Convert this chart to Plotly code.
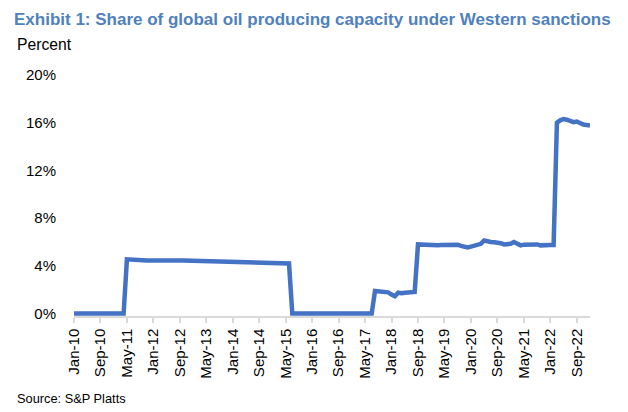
import plotly.graph_objects as go

# month labels Jan-10 .. Jan-23
month_names = ["Jan", "Feb", "Mar", "Apr", "May", "Jun",
               "Jul", "Aug", "Sep", "Oct", "Nov", "Dec"]
years = list(range(2010, 2024))
months = [f"{m}-{str(y)[2:]}" for y in years for m in month_names][:157]

# share of global oil producing capacity under sanctions, percent
share = [
    # 2010
    0, 0, 0, 0, 0, 0, 0, 0, 0, 0, 0, 0,
    # 2011
    0, 0, 0, 0, 4.55, 4.52, 4.50, 4.48, 4.47, 4.46, 4.45, 4.45,
    # 2012
    4.44, 4.43, 4.42, 4.43, 4.44, 4.45, 4.44, 4.43, 4.45, 4.46, 4.45, 4.44,
    # 2013
    4.43, 4.42, 4.42, 4.43, 4.42, 4.41, 4.41, 4.40, 4.40, 4.40, 4.39, 4.38,
    # 2014
    4.36, 4.33, 4.33, 4.34, 4.33, 4.32, 4.31, 4.30, 4.29, 4.28, 4.27, 4.26,
    # 2015
    4.25, 4.24, 4.23, 4.22, 4.24, 4.20, 0, 0, 0, 0, 0, 0,
    # 2016
    0, 0, 0, 0, 0, 0, 0, 0, 0, 0, 0, 0,
    # 2017
    0, 0, 0, 0, 0, 0, 0, 1.90, 1.88, 1.87, 1.85, 1.78,
    # 2018
    1.60, 1.45, 1.75, 1.70, 1.75, 1.78, 1.80, 1.82, 5.80, 5.78, 5.76, 5.75,
    # 2019
    5.72, 5.72, 5.74, 5.76, 5.78, 5.80, 5.82, 5.83, 5.78, 5.68, 5.60, 5.55,
    # 2020
    5.62, 5.70, 5.72, 5.85, 6.13, 6.02, 6.00, 5.98, 5.97, 5.90, 5.80, 5.78,
    # 2021
    5.85, 6.00, 5.85, 5.72, 5.78, 5.80, 5.82, 5.83, 5.80, 5.72, 5.70, 5.72,
    # 2022
    5.75, 5.75, 16.00, 16.20, 16.30, 16.25, 16.15, 16.05, 16.10, 15.95, 15.85, 15.80,
    # 2023
    15.77,
]

tick_labels = months[::8]
y_ticks = [0, 4, 8, 12, 16, 20]
y_tick_text = [f"{v}%" for v in y_ticks]

fig = go.Figure()
fig.add_trace(go.Scatter(
    x=months, y=share, mode="lines",
    line=dict(color="#4472C4", width=4.5),
    hoverinfo="skip",
))

# page body has an 8px margin, so the figure is drawn 8px smaller and offset
fig.update_layout(
    width=620, height=404,
    margin=dict(l=66, r=38, t=67, b=96),
    paper_bgcolor="white", plot_bgcolor="white",
    showlegend=False,
    font=dict(family="Liberation Sans, Arial, sans-serif", size=15, color="black"),
    title=dict(
        text="<b>Exhibit 1: Share of global oil producing capacity under Western sanctions</b>",
        x=6 / 620, xanchor="left", xref="container",
        y=1 - 5 / 404, yanchor="top", yref="container",
        font=dict(family="Liberation Sans, Arial", size=17, color="#4F81BD"),
    ),
    annotations=[
        dict(text="Percent", xref="paper", yref="paper", x=(15 - 74) / 516, y=(316.4 - 45) / 241,
             xanchor="left", yanchor="middle", showarrow=False, font=dict(size=15.7)),
        dict(text="Source: S&P Platts", xref="paper", yref="paper", x=(15 - 74) / 516, y=(316.4 - 399) / 241,
             xanchor="left", yanchor="middle", showarrow=False, font=dict(size=12.8)),
    ],
)

fig.update_xaxes(
    type="category",
    range=[0, len(months) - 1],
    tickmode="array", tickvals=tick_labels, ticktext=tick_labels,
    tickangle=-90,
    showline=True, linecolor="#d9d9d9", linewidth=1.5,
    ticks="outside", tickcolor="#d9d9d9", ticklen=5, tickwidth=1.5,
    showgrid=False, zeroline=False,
    tickfont=dict(size=15),
)
fig.update_yaxes(
    range=[-0.2, 20], tickmode="array", tickvals=y_ticks, ticktext=y_tick_text,
    showgrid=False, zeroline=False, showline=False, ticks="",
    ticklabelstandoff=17,
    tickfont=dict(size=15),
)

fig.write_html("out.html")
